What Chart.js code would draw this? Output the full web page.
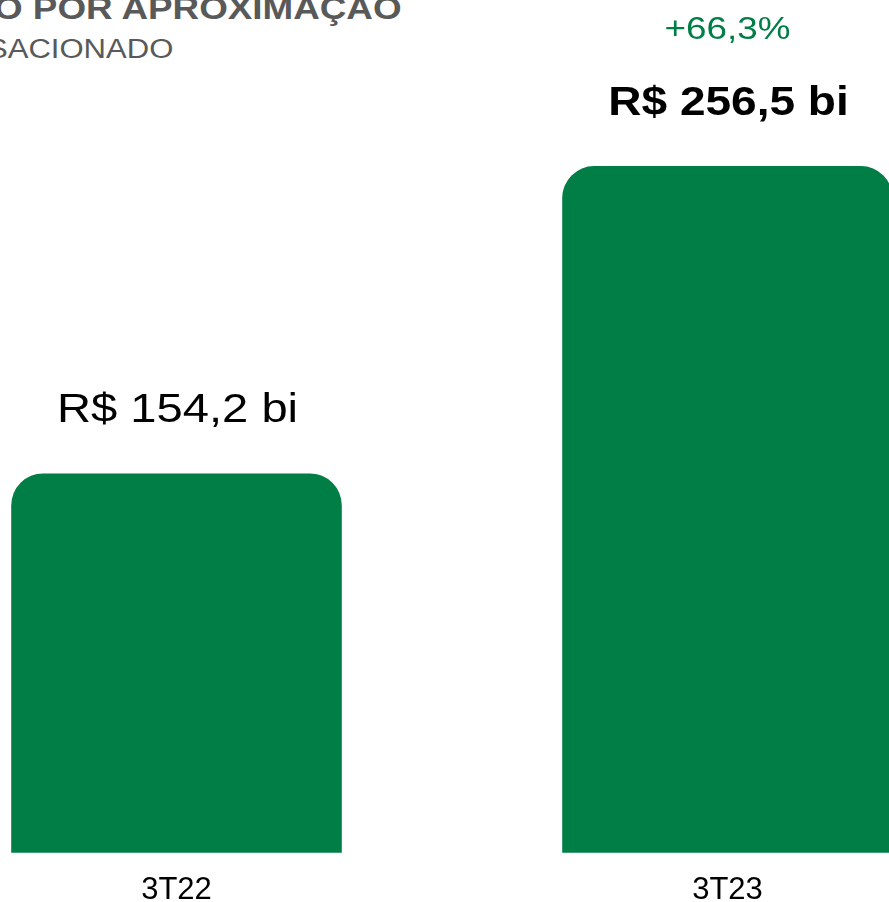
<!DOCTYPE html>
<html>
<head>
<meta charset="utf-8">
<script src="https://cdn.jsdelivr.net/npm/chart.js@4.4.0/dist/chart.umd.min.js"></script>
<style>
  html, body { margin: 0; padding: 0; width: 889px; height: 902px; overflow: hidden; background: #fff; }
  body { position: relative; font-family: "Liberation Sans", Arial, sans-serif; }
  .titulo { position: absolute; white-space: nowrap; color: #595959; line-height: 1; transform-origin: left top; }
  #t1 { left: -6px; top: -8px; font-size: 32px; font-weight: bold; transform: scaleX(1.15); }
  #t2 { left: -13px; top: 36px; font-size: 27px; transform: scaleX(1.15); }
  #wrap { position: absolute; left: -99px; top: 0; width: 1102px; height: 928px; }
</style>
</head>
<body>
<div class="titulo" id="t1">O POR APROXIMAÇÃO</div>
<div class="titulo" id="t2">SACIONADO</div>
<div id="wrap"><canvas id="myChart"></canvas></div>
<script>
// dados
var categorias = ['3T22', '3T23'];
var volumes = [154.2, 256.5];
var rotulos = ['R$ 154,2 bi', 'R$ 256,5 bi'];
var crescimento = '+66,3%';

var verde = '#017d46';
var fonte = '"Liberation Sans", Arial, sans-serif';

// desenha os valores em cima das barras (texto um pouco esticado como no original)
var rotulosPlugin = {
    id: 'rotulos',
    afterDatasetsDraw: function (chart) {
        var ctx = chart.ctx;
        var meta = chart.getDatasetMeta(0);
        var k = 1.15;
        meta.data.forEach(function (bar, i) {
            ctx.save();
            ctx.textAlign = 'center';
            ctx.textBaseline = 'alphabetic';
            ctx.fillStyle = '#000';
            ctx.font = (i == 1 ? 'bold 40px ' : '41px ') + fonte;
            ctx.translate(bar.x + 1, bar.y - 51);
            ctx.scale(k, 1);
            ctx.fillText(rotulos[i], 0, 0);
            ctx.restore();
            if (i == 1) {
                ctx.save();
                ctx.textAlign = 'center';
                ctx.fillStyle = verde;
                ctx.font = '32px ' + fonte;
                ctx.translate(bar.x, bar.y - 127);
                ctx.scale(k, 1);
                ctx.fillText(crescimento, 0, 0);
                ctx.restore();
            }
        });
    }
};

var ctx = document.getElementById('myChart').getContext('2d');
var myChart = new Chart(ctx, {
    type: 'bar',
    data: {
        labels: categorias,
        datasets: [{
            data: volumes,
            backgroundColor: verde,
            borderRadius: 32,
            borderSkipped: 'start',
            categoryPercentage: 1,
            barPercentage: 0.6
        }]
    },
    options: {
        responsive: true,
        maintainAspectRatio: false,
        animation: false,
        layout: { padding: 0 },
        plugins: { legend: { display: false }, tooltip: { enabled: false } },
        scales: {
            x: {
                grid: { display: false, drawTicks: false },
                border: { display: false },
                ticks: { color: '#000', padding: 19, font: { family: fonte, size: 31 } }
            },
            y: {
                display: false,
                min: 27.9,
                max: 311.8
            }
        }
    },
    plugins: [rotulosPlugin]
});
</script>
</body>
</html>
